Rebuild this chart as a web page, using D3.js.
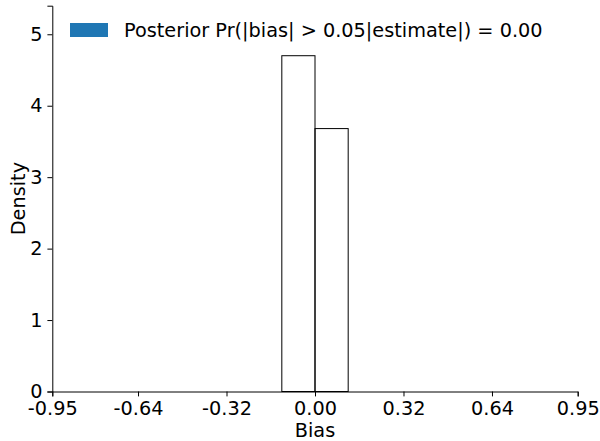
<!DOCTYPE html>
<html><head><meta charset="utf-8">
<script src="https://cdn.jsdelivr.net/npm/d3@7"></script>
<style>body{margin:0;background:#fff}svg{display:block}text{font-family:"DejaVu Sans",sans-serif}</style>
</head><body>
<svg id="chart" width="600" height="441"></svg>
<script>
const binEdges = [-0.12, 0.0, 0.12];
const densities = [4.70, 3.68];
const xTicks = [-0.95, -0.64, -0.32, 0.00, 0.32, 0.64, 0.95];
const yTicks = [0, 1, 2, 3, 4, 5];
const legendLabel = "Posterior Pr(|bias| > 0.05|estimate|) = 0.00";
const xLabel = "Bias", yLabel = "Density";

const svg = d3.select("#chart");
const m = {l: 52.3, r: 577.7, t: 5.7, b: 391.5};
const x = d3.scaleLinear().domain([-0.95, 0.95]).range([m.l, m.r]);
const y = d3.scaleLinear().domain([0, 5.4]).range([m.b, m.t]);
const fs = 19.3;

const bins = densities.map((d, i) => ({x0: binEdges[i], x1: binEdges[i+1], v: d}));
svg.append("g").selectAll("rect").data(bins).join("rect")
  .attr("x", d => x(d.x0)).attr("y", d => y(d.v))
  .attr("width", d => x(d.x1) - x(d.x0)).attr("height", d => y(0) - y(d.v))
  .attr("fill", "none").attr("stroke", "#000").attr("stroke-width", 1);

const xa = svg.append("g").attr("transform", `translate(0,${m.b})`)
  .call(d3.axisBottom(x).tickValues(xTicks).tickFormat(d3.format(".2f")).tickSizeOuter(0).tickSize(4.9).tickPadding(4.5));
const ya = svg.append("g").attr("transform", `translate(${m.l},0)`)
  .call(d3.axisLeft(y).tickValues(yTicks).tickFormat(d3.format("d")).tickSizeOuter(0).tickSize(4.9).tickPadding(4.9));
[xa, ya].forEach(a => {
  a.selectAll("text").attr("font-size", fs).attr("fill", "#000").attr("font-family", "DejaVu Sans");
  a.selectAll("line").attr("stroke", "#000").attr("stroke-width", 1);
  a.select(".domain").attr("stroke", "#000").attr("stroke-width", 1);
});
xa.selectAll("text").text(d => d < 0 ? "-" + d3.format(".2f")(-d) : d3.format(".2f")(d));

svg.append("text").attr("x", (m.l + m.r) / 2).attr("y", 437).attr("text-anchor", "middle")
  .attr("font-size", fs).text(xLabel);
svg.append("text").attr("transform", `translate(25,${(m.t + m.b) / 2}) rotate(-90)`)
  .attr("text-anchor", "middle").attr("font-size", fs).text(yLabel);

const lg = svg.append("g");
lg.append("rect").attr("x", 70).attr("y", 23).attr("width", 38).attr("height", 14).attr("fill", "#1f77b4");
lg.append("text").attr("x", 124).attr("y", 37).attr("font-size", fs).text(legendLabel);
</script>
</body></html>
